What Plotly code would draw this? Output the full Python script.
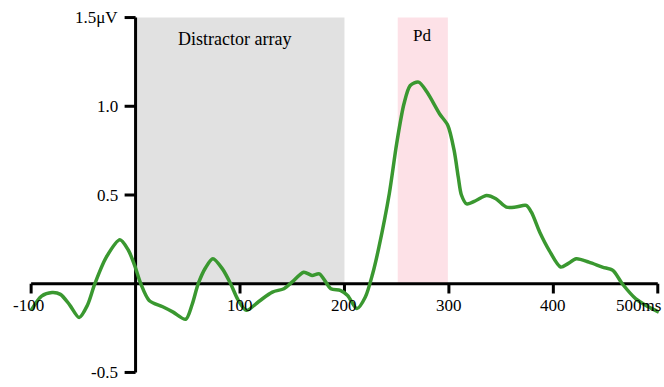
import plotly.graph_objects as go

# ERP waveform (time in ms, amplitude in µV)
time_ms = [-100, -90, -80, -72, -63, -54, -46, -39, -28, -15, -7, -1, 5, 13, 26,
           36, 48, 54, 60, 67, 74, 83, 91, 98, 106, 118, 131, 142, 150, 161, 169,
           176, 187, 196, 203, 212, 220, 227, 233, 243, 250, 257, 263, 271, 279,
           291, 299, 305, 309, 312, 317, 326, 336, 345, 355, 364, 374, 379, 387,
           396, 407, 414, 422, 434, 447, 457, 466, 479, 491, 501]
amplitude = [-0.15, -0.07, -0.05, -0.06, -0.12, -0.19, -0.12, 0.0, 0.15, 0.248,
             0.19, 0.105, 0.0, -0.094, -0.13, -0.16, -0.2, -0.12, 0.0, 0.09,
             0.141, 0.085, 0.0, -0.09, -0.15, -0.10, -0.047, -0.028, 0.01, 0.065,
             0.047, 0.056, -0.028, -0.038, -0.066, -0.14, -0.075, 0.056, 0.206,
             0.51, 0.79, 1.014, 1.117, 1.136, 1.08, 0.958, 0.892, 0.751, 0.6, 0.5,
             0.45, 0.469, 0.497, 0.479, 0.432, 0.432, 0.441, 0.403, 0.29, 0.188,
             0.094, 0.113, 0.141, 0.122, 0.094, 0.075, 0.0, -0.085, -0.13, -0.16]

x_ticks = [-100, 100, 200, 300, 400, 500]
x_tick_labels = ["-100", "100", "200", "300", "400", "500ms"]
y_ticks = [1.5, 1.0, 0.5, -0.5]
y_tick_labels = ["1.5μV", "1.0", "0.5", "-0.5"]

distractor_window = [0, 200]
pd_window = [251, 299]
window_top = 1.5

FONT = "Liberation Serif, Times New Roman, serif"

fig = go.Figure()
fig.add_trace(go.Scatter(
    x=time_ms, y=amplitude, mode="lines",
    line=dict(color="#3a9830", width=3.5, shape="spline", smoothing=0.8),
    hoverinfo="skip", showlegend=False))

shapes = []
shapes.append(dict(type="rect", xref="x", yref="y", x0=distractor_window[0], x1=distractor_window[1],
                   y0=0, y1=window_top, fillcolor="#e1e1e1", line=dict(width=0), layer="below"))
shapes.append(dict(type="rect", xref="x", yref="y", x0=pd_window[0], x1=pd_window[1],
                   y0=0, y1=window_top, fillcolor="#fde1e7", line=dict(width=0), layer="below"))
# axes
shapes.append(dict(type="line", xref="x", yref="y", x0=x_ticks[0], x1=x_ticks[-1], y0=0, y1=0,
                   line=dict(color="black", width=3), layer="below"))
shapes.append(dict(type="line", xref="x", yref="y", x0=0, x1=0, y0=y_ticks[-1], y1=y_ticks[0],
                   line=dict(color="black", width=3), layer="below"))
for xt in x_ticks:
    shapes.append(dict(type="line", xref="x", yref="y", x0=xt, x1=xt, y0=0, y1=-0.055,
                       line=dict(color="black", width=3), layer="below"))
for yt in y_ticks:
    shapes.append(dict(type="line", xref="x", yref="y", x0=-10.5, x1=0, y0=yt, y1=yt,
                       line=dict(color="black", width=3), layer="below"))

annotations = []
for xt, lab in zip(x_ticks, x_tick_labels):
    if lab.endswith("ms"):
        annotations.append(dict(x=505, y=-0.06, xref="x", yref="y", text=lab, showarrow=False,
                                xanchor="right", yanchor="top", font=dict(family=FONT, size=17, color="black")))
    else:
        annotations.append(dict(x=xt - (3 if xt < 0 else 0), y=-0.06, xref="x", yref="y", text=lab,
                                showarrow=False, xanchor="center", yanchor="top",
                                font=dict(family=FONT, size=17, color="black")))
for yt, lab in zip(y_ticks, y_tick_labels):
    annotations.append(dict(x=-15, y=yt, xref="x", yref="y", text=lab, showarrow=False,
                            xanchor="right", yanchor="middle", font=dict(family=FONT, size=17, color="black")))
annotations.append(dict(x=95, y=1.38, xref="x", yref="y", text="Distractor array", showarrow=False,
                        xanchor="center", yanchor="middle", font=dict(family=FONT, size=18, color="black")))
annotations.append(dict(x=274, y=1.40, xref="x", yref="y", text="Pd", showarrow=False,
                        xanchor="center", yanchor="middle", font=dict(family=FONT, size=17, color="black")))

fig.update_layout(
    width=664, height=387,
    margin=dict(l=28, r=1, t=14, b=11),
    paper_bgcolor="white", plot_bgcolor="white",
    xaxis=dict(range=[-103, 505], visible=False),
    yaxis=dict(range=[-0.52, 1.52], visible=False),
    shapes=shapes, annotations=annotations,
)

fig.write_html("out.html")
